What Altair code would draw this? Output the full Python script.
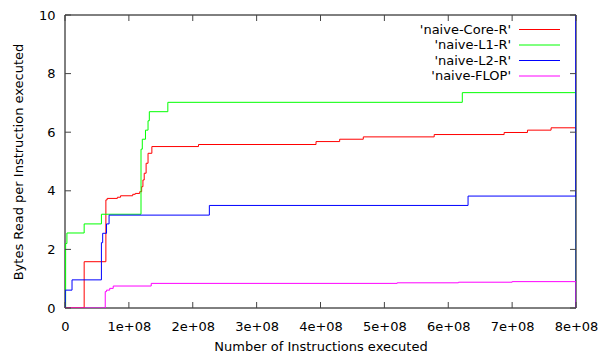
import altair as alt
import pandas as pd

FONT = "DejaVu Sans"

series_names = ["'naive-Core-R'", "'naive-L1-R'", "'naive-L2-R'", "'naive-FLOP'"]
series_colors = ["#ff0000", "#00ff00", "#0000ff", "#ff00ff"]

core_x = [0, 0.30e8, 0.64e8, 0.66e8, 0.82e8, 0.87e8, 1.06e8, 1.10e8, 1.17e8, 1.20e8, 1.22e8, 1.24e8,
          1.27e8, 1.30e8, 1.36e8, 2.09e8, 3.93e8, 4.30e8, 4.67e8, 5.78e8, 6.875e8, 7.24e8, 7.61e8, 8.0e8]
core_y = [0, 1.58, 3.69, 3.74, 3.78, 3.83, 3.88, 3.91, 3.97, 4.14, 4.37, 4.60,
          4.94, 5.28, 5.51, 5.58, 5.68, 5.76, 5.84, 5.92, 5.99, 6.07, 6.15, 0]

l1_x = [0, 0.01e8, 0.03e8, 0.30e8, 0.57e8, 1.19e8, 1.21e8, 1.26e8, 1.30e8, 1.32e8, 1.61e8, 6.22e8, 8.0e8]
l1_y = [0, 2.20, 2.56, 2.87, 3.20, 5.42, 5.76, 6.07, 6.39, 6.70, 7.02, 7.35, 0]

l2_x = [0, 0.005e8, 0.11e8, 0.57e8, 0.59e8, 0.65e8, 0.69e8, 2.26e8, 6.31e8, 8.0e8, 8.0e8]
l2_y = [0, 0.61, 0.96, 2.23, 2.55, 2.87, 3.17, 3.50, 3.82, 10, 0]

flop_x = [0, 0.63e8, 0.65e8, 0.70e8, 0.755e8, 1.35e8, 5.20e8, 6.16e8, 7.00e8, 8.0e8]
flop_y = [0, 0.56, 0.61, 0.67, 0.75, 0.84, 0.86, 0.88, 0.90, 0]

x_ticks = [0, 1e8, 2e8, 3e8, 4e8, 5e8, 6e8, 7e8, 8e8]
y_ticks = [0, 2, 4, 6, 8, 10]

W, H = 511, 293

all_x = [core_x, l1_x, l2_x, flop_x]
all_y = [core_y, l1_y, l2_y, flop_y]

xscale = alt.Scale(domain=[0, 8e8], nice=False, zero=False)
yscale = alt.Scale(domain=[0, 10], nice=False)

xaxis = alt.Axis(values=x_ticks, title="Number of Instructions executed",
                 labelExpr="datum.value == 0 ? '0' : format(datum.value / 1e8, 'd') + 'e+08'",
                 ticks=False, domain=False, grid=False, labelFlush=False, labelPadding=12,
                 titlePadding=7)
yaxis = alt.Axis(values=y_ticks, title="Bytes Read per Instruction executed",
                 ticks=False, domain=False, grid=False, labelFlush=False, labelPadding=10,
                 titlePadding=13)

layers = []

# plot border
layers.append(alt.Chart(pd.DataFrame({"b": [0]})).mark_rect(
    fillOpacity=0, stroke="#000000", strokeWidth=1).encode(
    x=alt.value(0), x2=alt.value(W), y=alt.value(0), y2=alt.value(H)))

for i, (name, color) in enumerate(zip(series_names, series_colors)):
    df = pd.DataFrame({"x": all_x[i], "y": all_y[i], "order": range(len(all_x[i]))})
    ln = alt.Chart(df).mark_line(interpolate="step-after", color=color, strokeWidth=1, clip=True).encode(
        x=alt.X("x:Q", scale=xscale, axis=xaxis),
        y=alt.Y("y:Q", scale=yscale, axis=yaxis),
        order="order:Q",
    )
    layers.append(ln)

# inward ticks
xt = pd.DataFrame({"x": x_ticks})
yt = pd.DataFrame({"y": y_ticks})
tick_color = "#444444"
layers.append(alt.Chart(xt).mark_rule(color=tick_color).encode(
    x=alt.X("x:Q", scale=xscale, axis=xaxis), y=alt.value(H), y2=alt.value(H - 6)))
layers.append(alt.Chart(xt).mark_rule(color=tick_color).encode(
    x=alt.X("x:Q", scale=xscale, axis=xaxis), y=alt.value(0), y2=alt.value(6)))
layers.append(alt.Chart(yt).mark_rule(color=tick_color).encode(
    y=alt.Y("y:Q", scale=yscale, axis=yaxis), x=alt.value(0), x2=alt.value(6)))
layers.append(alt.Chart(yt).mark_rule(color=tick_color).encode(
    y=alt.Y("y:Q", scale=yscale, axis=yaxis), x=alt.value(W), x2=alt.value(W - 6)))

# gnuplot-style key
key_rows = [14.5, 30.0, 45.5, 61.0]
for i, (name, color) in enumerate(zip(series_names, series_colors)):
    ypos = key_rows[i]
    kd = pd.DataFrame({"label": [name]})
    layers.append(alt.Chart(kd).mark_text(align="right", baseline="middle", font=FONT, fontSize=13,
                                          color="#000000").encode(
        text="label:N", x=alt.value(446), y=alt.value(ypos)))
    layers.append(alt.Chart(kd).mark_rule(color=color, strokeWidth=1).encode(
        x=alt.value(454), x2=alt.value(495), y=alt.value(ypos), detail="label:N"))

chart = alt.layer(*layers).properties(
    width=W, height=H,
    background="#ffffff",
    autosize=alt.AutoSizeParams(type="none"),
    padding={"left": 65, "top": 15, "right": 27, "bottom": 44},
).configure_view(stroke=None).configure_axis(
    labelFont=FONT, labelFontSize=13, labelColor="#000000",
    titleFont=FONT, titleFontSize=13, titleColor="#000000", titleFontWeight="normal",
)

chart.save("out.html", embed_options={"renderer": "svg", "actions": False})
